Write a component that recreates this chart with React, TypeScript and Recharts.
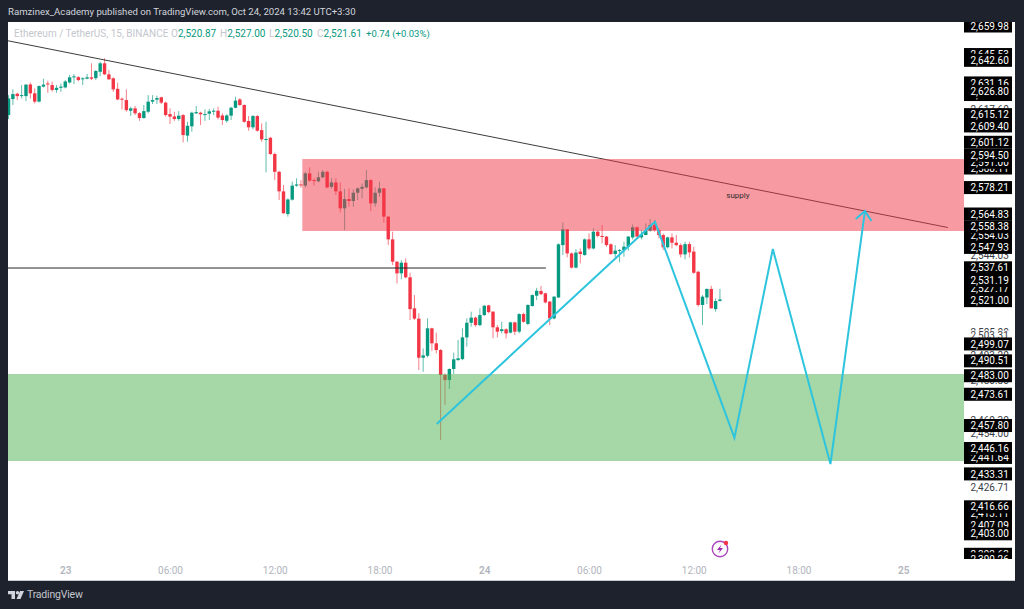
import {
  ComposedChart,
  Bar,
  Line,
  XAxis,
  YAxis,
  ReferenceArea,
  ReferenceLine,
  ReferenceDot,
} from "recharts";

// 15 minute bars
const opens = [
  2614.9, 2623.0, 2625.7, 2624.7, 2624.5, 2630.4, 2625.9, 2621.7, 2629.3, 2630.9, 2630.1, 2627.6, 2628.7, 2628.9, 2631.4, 2634.0, 2634.1, 2633.0, 2633.3, 2634.0,
  2633.6, 2636.8, 2641.1, 2635.5, 2633.5, 2628.2, 2623.2, 2622.5, 2617.1, 2618.3, 2615.9, 2613.4, 2616.6, 2621.7, 2622.7, 2623.9, 2621.2, 2615.4, 2614.2, 2612.9,
  2614.9, 2604.5, 2609.2, 2615.8, 2616.1, 2614.9, 2615.6, 2616.6, 2617.1, 2614.7, 2612.0, 2614.6, 2618.6, 2622.8, 2620.0, 2611.9, 2608.7, 2614.4, 2607.3, 2602.3,
  2603.4, 2595.2, 2586.2, 2576.3, 2564.8, 2572.1, 2579.2, 2579.8, 2579.2, 2585.4, 2582.0, 2581.4, 2583.4, 2586.2, 2578.6, 2580.8, 2576.3, 2567.7, 2572.4, 2571.4,
  2575.6, 2577.6, 2578.3, 2582.0, 2570.2, 2575.6, 2577.8, 2563.5, 2552.0, 2540.7, 2534.8, 2540.2, 2532.8, 2517.1, 2511.9, 2492.1, 2493.1, 2507.0, 2499.4, 2496.0,
  2483.4, 2480.8, 2486.4, 2490.9, 2491.4, 2502.4, 2509.8, 2512.4, 2508.6, 2513.7, 2518.6, 2515.4, 2507.5, 2505.6, 2506.5, 2504.8, 2510.0, 2505.3, 2514.2, 2509.2,
  2518.3, 2523.5, 2525.9, 2524.7, 2520.5, 2512.0, 2522.6, 2549.1, 2557.1, 2544.9, 2537.7, 2545.8, 2544.1, 2552.0, 2547.4, 2555.9, 2553.7, 2553.4, 2549.5, 2544.6,
  2546.3, 2546.6, 2548.3, 2553.0, 2558.1, 2553.0, 2554.2, 2556.4, 2559.3, 2556.7, 2554.2, 2548.0, 2553.0, 2550.3, 2549.1, 2544.4, 2549.6, 2545.8, 2535.6, 2518.8,
  2522.6, 2526.9, 2516.7, 2520.87,
];
const highs = [
  2625.0, 2627.9, 2626.2, 2630.1, 2630.6, 2631.3, 2628.4, 2629.9, 2633.3, 2632.3, 2631.8, 2630.1, 2630.9, 2632.6, 2635.2, 2635.7, 2634.6, 2634.0, 2635.7, 2641.1,
  2637.7, 2641.9, 2643.6, 2637.7, 2634.0, 2631.3, 2623.7, 2627.9, 2619.1, 2619.5, 2616.4, 2620.0, 2625.0, 2625.0, 2624.7, 2624.2, 2621.7, 2618.3, 2616.6, 2616.9,
  2615.4, 2611.5, 2616.6, 2619.5, 2616.6, 2617.8, 2618.0, 2618.3, 2619.1, 2615.8, 2615.3, 2619.1, 2624.2, 2623.5, 2620.3, 2614.4, 2614.9, 2614.9, 2610.7, 2611.5,
  2603.9, 2595.9, 2586.7, 2579.5, 2572.7, 2581.2, 2582.9, 2582.0, 2586.1, 2588.4, 2582.9, 2586.2, 2587.1, 2586.7, 2582.9, 2582.9, 2580.8, 2577.5, 2577.8, 2577.3,
  2578.3, 2580.3, 2587.1, 2582.4, 2578.3, 2581.2, 2578.1, 2563.8, 2555.9, 2541.0, 2541.5, 2542.4, 2535.1, 2523.8, 2514.6, 2496.8, 2512.0, 2507.3, 2504.8, 2496.5,
  2484.2, 2486.7, 2494.7, 2501.1, 2507.0, 2512.0, 2515.4, 2512.9, 2517.1, 2518.8, 2518.9, 2515.7, 2508.7, 2510.3, 2507.0, 2510.3, 2510.3, 2514.6, 2514.9, 2519.1,
  2524.2, 2527.5, 2528.4, 2525.0, 2520.8, 2523.3, 2550.0, 2560.6, 2557.2, 2545.4, 2547.1, 2547.4, 2552.5, 2555.0, 2557.6, 2556.7, 2559.3, 2553.7, 2550.0, 2549.1,
  2547.1, 2550.8, 2553.7, 2559.6, 2558.7, 2556.7, 2560.1, 2562.3, 2561.8, 2557.6, 2555.0, 2553.4, 2555.0, 2554.2, 2550.0, 2550.8, 2550.8, 2548.3, 2536.1, 2523.8,
  2527.2, 2528.5, 2522.1, 2527.0,
];
const lows = [
  2612.9, 2620.0, 2622.5, 2623.3, 2622.0, 2623.3, 2620.8, 2621.3, 2628.9, 2626.2, 2626.7, 2626.2, 2626.7, 2628.4, 2630.9, 2630.6, 2632.1, 2630.1, 2633.0, 2632.6,
  2632.6, 2634.6, 2635.2, 2632.6, 2626.7, 2622.5, 2617.8, 2616.6, 2614.4, 2614.9, 2612.0, 2613.1, 2615.8, 2620.5, 2620.5, 2620.5, 2614.1, 2610.4, 2612.0, 2612.0,
  2601.1, 2601.4, 2606.5, 2615.4, 2609.9, 2612.0, 2612.4, 2614.9, 2612.7, 2609.9, 2611.0, 2612.4, 2618.3, 2619.5, 2611.0, 2607.0, 2607.7, 2606.5, 2601.4, 2585.9,
  2594.7, 2582.0, 2571.9, 2565.0, 2563.5, 2571.6, 2578.6, 2578.1, 2578.3, 2581.2, 2579.2, 2580.8, 2582.9, 2577.8, 2577.8, 2574.4, 2565.7, 2556.7, 2568.5, 2568.5,
  2571.9, 2572.7, 2577.8, 2566.3, 2568.5, 2573.6, 2560.4, 2549.1, 2539.0, 2529.7, 2531.8, 2532.3, 2511.2, 2511.2, 2485.9, 2485.0, 2492.3, 2495.7, 2494.3, 2450.5,
  2468.2, 2476.3, 2483.9, 2490.6, 2490.9, 2497.7, 2507.8, 2507.8, 2508.1, 2513.2, 2514.6, 2501.9, 2502.4, 2504.4, 2501.9, 2504.4, 2503.6, 2504.4, 2509.8, 2508.6,
  2517.9, 2521.3, 2523.8, 2519.6, 2508.6, 2511.5, 2522.3, 2544.1, 2542.9, 2537.2, 2537.3, 2539.9, 2543.7, 2546.6, 2546.9, 2553.0, 2550.0, 2548.3, 2544.1, 2542.9,
  2540.4, 2543.2, 2546.3, 2552.0, 2553.0, 2552.0, 2554.1, 2555.9, 2555.9, 2552.5, 2546.6, 2547.4, 2547.4, 2548.6, 2542.9, 2541.9, 2542.9, 2534.5, 2517.9, 2508.6,
  2519.3, 2517.0, 2515.4, 2520.5,
];
const closes = [
  2623.3, 2625.5, 2624.5, 2625.0, 2630.3, 2625.9, 2621.7, 2629.6, 2630.3, 2630.4, 2627.6, 2628.7, 2629.3, 2631.9, 2634.0, 2634.5, 2632.6, 2633.5, 2634.0, 2633.3,
  2637.2, 2641.1, 2635.5, 2633.0, 2627.9, 2622.8, 2622.8, 2617.4, 2618.3, 2615.8, 2613.4, 2616.9, 2621.7, 2622.5, 2623.5, 2621.2, 2614.9, 2614.1, 2612.9, 2614.6,
  2604.8, 2609.5, 2616.1, 2616.4, 2615.3, 2615.4, 2616.8, 2617.1, 2613.6, 2612.4, 2614.7, 2618.6, 2622.2, 2620.0, 2611.5, 2608.7, 2614.4, 2607.0, 2602.6, 2602.8,
  2595.2, 2586.2, 2576.3, 2565.2, 2572.2, 2579.2, 2579.8, 2579.5, 2585.4, 2581.7, 2581.5, 2583.4, 2586.2, 2578.3, 2580.8, 2576.3, 2567.7, 2572.4, 2571.4, 2575.6,
  2577.8, 2578.6, 2582.0, 2570.2, 2575.6, 2577.8, 2563.5, 2552.0, 2540.7, 2534.8, 2540.2, 2532.8, 2516.7, 2511.9, 2492.1, 2493.3, 2507.0, 2499.4, 2496.0, 2483.4,
  2480.8, 2486.4, 2491.3, 2491.8, 2502.4, 2509.8, 2512.4, 2508.6, 2513.7, 2518.4, 2515.2, 2507.5, 2505.3, 2506.5, 2504.4, 2510.0, 2505.3, 2514.2, 2510.3, 2518.8,
  2523.8, 2526.0, 2524.3, 2520.1, 2512.0, 2523.0, 2549.5, 2557.1, 2544.9, 2537.7, 2545.3, 2544.6, 2552.0, 2547.4, 2555.9, 2553.7, 2553.4, 2549.1, 2544.6, 2546.3,
  2546.6, 2548.3, 2553.4, 2558.1, 2553.4, 2554.5, 2556.4, 2559.3, 2556.7, 2554.2, 2548.0, 2553.0, 2550.3, 2549.1, 2544.4, 2549.6, 2545.4, 2535.1, 2518.8, 2523.0,
  2526.9, 2517.1, 2520.8, 2521.61,
];

const timeTicks = [13, 37, 61, 85, 109, 133, 157, 181, 205];
const timeLabels = ["23", "06:00", "12:00", "18:00", "24", "06:00", "12:00", "18:00", "25"];
const dayLabels = ["23", "24", "25"];

// order matters: later labels cover earlier ones, like the stacked price tags
const plainPrices = [2617.6, 2544.03, 2505.0, 2503.31, 2493.2, 2480.8, 2460.3, 2454.0, 2426.71];
const coveredPrices = [
  2645.53, 2631.16, 2625.3, 2609.4, 2588.11, 2591.0, 2554.03, 2527.17, 2441.64, 2407.09, 2413.11, 2392.63,
];
const topPrices = [
  2659.98, 2642.6, 2626.8, 2615.12, 2601.12, 2594.5, 2578.21, 2564.83, 2558.38, 2547.93, 2537.61, 2531.19, 2521.0,
  2499.07, 2490.51, 2483.0, 2473.61, 2457.8, 2446.16, 2433.31, 2416.66, 2403.0, 2390.26,
];
const priceTicks = [...plainPrices, ...coveredPrices, ...topPrices];

const zigzagTimes = [98, 148, 166.2, 175, 188.2, 196.1];
const zigzagPrices = [2458.6, 2560.9, 2451.5, 2547.1, 2438.3, 2566.3];
const arrowTimes = [194, 196.1, 197.6];
const arrowPrices = [2562.3, 2566.3, 2561.3];

const candles = opens.map((open, i) => ({
  t: i,
  open,
  close: closes[i],
  high: highs[i],
  low: lows[i],
  range: [lows[i], highs[i]],
}));
const zigzag = zigzagTimes.map((t, i) => ({ t, price: zigzagPrices[i] }));
const arrow = arrowTimes.map((t, i) => ({ t, price: arrowPrices[i] }));

const UP = "#089981";
const DOWN = "#f23645";
const FONT = "Roboto, sans-serif";

function Candle(props: any) {
  const { x, y, width, height, payload } = props;
  const top = Math.min(y, y + height);
  const h = Math.abs(height);
  const perUnit = h / (payload.high - payload.low);
  const color = payload.close >= payload.open ? UP : DOWN;
  const bodyTop = top + (payload.high - Math.max(payload.open, payload.close)) * perUnit;
  const bodyH = Math.max(Math.abs(payload.open - payload.close) * perUnit, 1);
  const mid = x + width / 2;
  return (
    <g>
      <line x1={mid} x2={mid} y1={top} y2={top + h} stroke={color} strokeOpacity={0.65} strokeWidth={1} />
      <rect x={x} y={bodyTop} width={width} height={bodyH} fill={color} />
    </g>
  );
}

function PriceTick(props: any) {
  const { x, y, payload, index } = props;
  const plain = plainPrices.includes(payload.value);
  const label = payload.value.toLocaleString("en-US", { minimumFractionDigits: 2, maximumFractionDigits: 2 });
  const clipId = `price-clip-${index}`;
  return (
    <g clipPath={`url(#${clipId})`}>
      <clipPath id={clipId}>
        <rect x={x} y={0} width={51} height={537} />
      </clipPath>
      {plain ? (
        <rect x={x} y={y - 5} width={48} height={10} fill="#fff" />
      ) : (
        <rect x={x} y={y - 6.5} width={48} height={13} fill="#000" />
      )}
      <text x={x + 6.5} y={y + 3.6} fontSize={10} fontFamily={FONT} fill={plain ? "#3a3d46" : "#fff"}>
        {label}
      </text>
    </g>
  );
}

function TimeTick(props: any) {
  const { x, y, payload, index } = props;
  const label = timeLabels[index] ?? String(payload.value);
  return (
    <text
      x={x}
      y={y + 15}
      textAnchor="middle"
      fontSize={10}
      fontFamily={FONT}
      fontWeight={dayLabels.includes(label) ? 600 : 400}
      fill="#b2b5be"
    >
      {label}
    </text>
  );
}

function FlashIcon() {
  return (
    <svg width={20} height={20} style={{ position: "absolute", left: 710, top: 538 }}>
      <circle cx={10} cy={11} r={7.7} fill="none" stroke="#ab47bc" strokeWidth={1.4} />
      <path d="M11.5 6.5 L7 12 L10 12 L8.5 15.5 L13 10 L10 10 Z" fill="#9c27b0" />
      <circle cx={16} cy={5} r={2.2} fill="#f23645" />
    </svg>
  );
}

function Logo() {
  return (
    <svg width={18} height={10} style={{ position: "absolute", left: 8, top: 590 }}>
      <path d="M0 1 H7 V9 H3.5 V4.2 H0 Z" fill="#d1d4dc" />
      <circle cx={9.5} cy={2.7} r={1.7} fill="#d1d4dc" />
      <path d="M12 1 H16 L12.5 9 H8.5 Z" fill="#d1d4dc" />
    </svg>
  );
}

const legendStyle = { position: "absolute", top: 28, fontSize: 10, fontFamily: FONT, whiteSpace: "nowrap" } as const;

function LegendItem({ left, name, value }: { left: number; name: string; value: string }) {
  return (
    <div style={{ ...legendStyle, left, color: "#c4c6cd" }}>
      {name}
      <span style={{ color: UP }}>{value}</span>
    </div>
  );
}

export default function App() {
  return (
    <div
      style={{
        position: "absolute",
        left: 0,
        top: 0,
        width: 1024,
        height: 609,
        background: "#1e222d",
        overflow: "hidden",
        fontFamily: FONT,
      }}
    >
      <div style={{ position: "absolute", left: 8, top: 6, fontSize: 9.6, color: "#d1d4dc", whiteSpace: "nowrap" }}>
        Ramzinex_Academy published on TradingView.com, Oct 24, 2024 13:42 UTC+3:30
      </div>

      <div
        style={{
          position: "absolute",
          left: 8,
          top: 22,
          width: 1007,
          height: 558,
          background: "#fff",
          borderBottom: "1px solid #c9cbd1",
        }}
      >
        <ComposedChart
          width={1007}
          height={558}
          data={candles}
          margin={{ top: 0, right: 0, bottom: 0, left: 0 }}
        >
          <XAxis
            dataKey="t"
            type="number"
            domain={[-0.23, 218.8]}
            allowDataOverflow
            ticks={timeTicks}
            interval={0}
            axisLine={false}
            tickLine={false}
            tickSize={0}
            tickMargin={0}
            height={21}
            tick={TimeTick}
          />
          <YAxis
            orientation="right"
            type="number"
            domain={[2390.25, 2662]}
            allowDataOverflow
            ticks={priceTicks}
            interval={0}
            axisLine={false}
            tickLine={false}
            tickSize={0}
            tickMargin={0}
            width={51}
            tick={PriceTick}
          />
          <Bar dataKey="range" barSize={3.4} shape={Candle} isAnimationActive={false} zIndex={300} />
          <ReferenceLine
            segment={[
              { x: -0.23, y: 2652.5 },
              { x: 215.1, y: 2558.0 },
            ]}
            stroke="#3c3c3c"
            strokeWidth={1}
            zIndex={320}
          />
          <ReferenceLine
            segment={[
              { x: -0.23, y: 2537.5 },
              { x: 123, y: 2537.5 },
            ]}
            stroke="#26272b"
            strokeWidth={1}
            zIndex={320}
          />
          <ReferenceArea
            x1={67.2}
            x2={218.8}
            y1={2556.2}
            y2={2592.65}
            fill="#f23645"
            fillOpacity={0.5}
            stroke="none"
            zIndex={350}
          />
          <ReferenceArea
            x1={-0.23}
            x2={218.8}
            y1={2439.8}
            y2={2483.9}
            fill="#4caf50"
            fillOpacity={0.5}
            stroke="none"
            zIndex={350}
          />
          <Line
            data={zigzag}
            dataKey="price"
            type="linear"
            stroke="#2dc4de"
            strokeWidth={2}
            dot={false}
            isAnimationActive={false}
            zIndex={400}
          />
          <Line
            data={arrow}
            dataKey="price"
            type="linear"
            stroke="#2dc4de"
            strokeWidth={2}
            dot={false}
            isAnimationActive={false}
            zIndex={400}
          />
          <ReferenceDot
            x={167}
            y={2574.4}
            r={0}
            stroke="none"
            label={{ value: "supply", fontSize: 8, fill: "#2e2e2e", fontFamily: FONT }}
            zIndex={450}
          />
        </ComposedChart>
      </div>

      <div style={{ ...legendStyle, left: 14, color: "#c4c6cd" }}>Ethereum / TetherUS, 15, BINANCE</div>
      <LegendItem left={171} name="O" value="2,520.87" />
      <LegendItem left={220} name="H" value="2,527.00" />
      <LegendItem left={269} name="L" value="2,520.50" />
      <LegendItem left={317} name="C" value="2,521.61" />
      <div style={{ ...legendStyle, left: 366, fontSize: 9.5, color: UP }}>+0.74 (+0.03%)</div>

      <FlashIcon />
      <Logo />
      <div
        style={{
          position: "absolute",
          left: 27,
          top: 588,
          fontSize: 10.5,
          letterSpacing: -0.2,
          color: "#c4c6cd",
          whiteSpace: "nowrap",
        }}
      >
        TradingView
      </div>
    </div>
  );
}
